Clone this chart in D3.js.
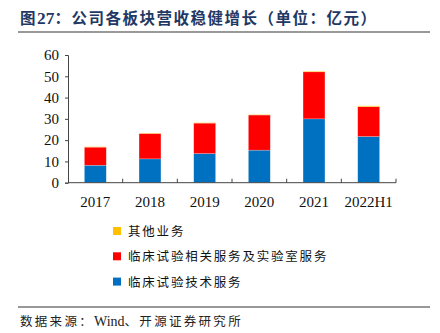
<!DOCTYPE html>
<html>
<head>
<meta charset="utf-8">
<script src="https://cdn.jsdelivr.net/npm/d3@7"></script>
<style>
    body { margin: 0; background: #fff; }
    svg { display: block; }
</style>
</head>
<body>
<svg id="chart"></svg>
<script>
const years = ["2017", "2018", "2019", "2020", "2021", "2022H1"];
const techService = [8.2, 11.2, 13.7, 15.3, 30.0, 21.7];
const labService = [8.5, 11.9, 14.3, 16.5, 22.1, 14.0];
const otherBiz = [0.2, 0.2, 0.2, 0.2, 0.3, 0.4];
const seriesNames = ["临床试验技术服务", "临床试验相关服务及实验室服务", "其他业务"];
const yTicks = [0, 10, 20, 30, 40, 50, 60];

const colors = ["#0070C0", "#FF0000", "#FFC000"];
const width = 440, height = 333;
const margin = { top: 55, right: 44, bottom: 150, left: 68 };
const cjk = "'Noto Sans CJK SC'";
const serif = "'Liberation Serif'";

const svg = d3.select("#chart")
    .attr("width", width)
    .attr("height", height);

// header: mixed CJK / latin runs
function mixedText(sel, parts, spacing) {
    parts.forEach(p => {
        sel.append("tspan")
            .attr("font-family", p.latin ? serif : cjk)
            .attr("font-size", p.latin ? sel.attr("font-size") * 1.12 : null)
            .attr("letter-spacing", p.latin ? 0 : spacing)
            .text(p.t);
    });
}

const title = svg.append("text")
    .attr("x", 20)
    .attr("y", 24)
    .attr("font-weight", "bold")
    .attr("font-size", 15.5)
    .attr("fill", "#1F3864");
mixedText(title, [
    { t: "图" },
    { t: "27", latin: true },
    { t: "：公司各板块营收稳健增长（单位：亿元）" }
], 1.5);

svg.append("line")
    .attr("x1", 18).attr("x2", 430)
    .attr("y1", 32).attr("y2", 32)
    .attr("stroke", "#999")
    .attr("stroke-width", 2);

const innerW = width - margin.left - margin.right;
const innerH = 182.7 - margin.top;

const chart = svg.append("g")
    .attr("transform", `translate(${margin.left}, ${margin.top})`);

const x = d3.scaleBand()
    .domain(years)
    .range([0, innerW])
    .paddingInner(0.6)
    .paddingOuter(0.3);

const y = d3.scaleLinear()
    .domain([0, 60])
    .range([innerH, 0]);

const rows = years.map((yr, i) => ({ year: yr, tech: techService[i], lab: labService[i], other: otherBiz[i] }));
const stacked = d3.stack().keys(["tech", "lab", "other"])(rows);

chart.selectAll(".layer")
    .data(stacked)
    .join("g")
    .attr("class", "layer")
    .attr("fill", (d, i) => colors[i])
    .selectAll("rect")
    .data(d => d)
    .join("rect")
    .attr("x", d => x(d.data.year))
    .attr("y", d => y(d[1]))
    .attr("width", x.bandwidth())
    .attr("height", d => y(d[0]) - y(d[1]))
    .attr("stroke", "#fff")
    .attr("stroke-opacity", 0.35)
    .attr("stroke-width", 0.6);

// y axis
const yAxis = d3.axisLeft(y)
    .tickValues(yTicks)
    .tickSize(3)
    .tickPadding(6);

chart.append("g")
    .call(yAxis)
    .call(g => g.select(".domain").attr("stroke", "#444"))
    .call(g => g.selectAll(".tick line").attr("stroke", "#444"))
    .call(g => g.selectAll("text")
        .attr("font-family", serif)
        .attr("font-size", 15)
        .attr("fill", "#111"));

// x axis with ticks between categories
const step = x.step();
const boundaries = d3.range(years.length + 1).map(i => i * step);

const xAxisG = chart.append("g")
    .attr("transform", `translate(0, ${innerH})`);

xAxisG.append("line")
    .attr("x1", 0).attr("x2", innerW)
    .attr("stroke", "#444");

xAxisG.selectAll(".bound")
    .data(boundaries.slice(1))
    .join("line")
    .attr("class", "bound")
    .attr("x1", d => d).attr("x2", d => d)
    .attr("y1", 0).attr("y2", -4)
    .attr("stroke", "#444");

xAxisG.selectAll(".xlabel")
    .data(years)
    .join("text")
    .attr("class", "xlabel")
    .attr("x", d => x(d) + x.bandwidth() / 2)
    .attr("y", 24)
    .attr("text-anchor", "middle")
    .attr("font-family", serif)
    .attr("font-size", 15)
    .attr("fill", "#111")
    .text(d => d);

// legend, top to bottom: other, lab, tech
const legendItems = [2, 1, 0];
const legend = svg.append("g")
    .attr("transform", "translate(113, 231)");

legend.selectAll("g")
    .data(legendItems)
    .join("g")
    .attr("transform", (d, i) => `translate(0, ${i * 25.3})`)
    .call(g => g.append("rect")
        .attr("x", 0).attr("y", -4)
        .attr("width", 8).attr("height", 8)
        .attr("fill", d => colors[d]))
    .call(g => g.append("text")
        .attr("x", 15)
        .attr("y", 5)
        .attr("font-family", cjk)
        .attr("font-size", 12.5)
        .attr("letter-spacing", 1.8)
        .attr("fill", "#111")
        .text(d => seriesNames[d]));

// footer
svg.append("line")
    .attr("x1", 18).attr("x2", 430)
    .attr("y1", 307).attr("y2", 307)
    .attr("stroke", "#333")
    .attr("stroke-width", 1);

const source = svg.append("text")
    .attr("x", 20)
    .attr("y", 326)
    .attr("font-size", 12.5)
    .attr("fill", "#222");
mixedText(source, [
    { t: "数据来源：" },
    { t: "Wind", latin: true },
    { t: "、开源证券研究所" }
], 2.3);
</script>
</body>
</html>
